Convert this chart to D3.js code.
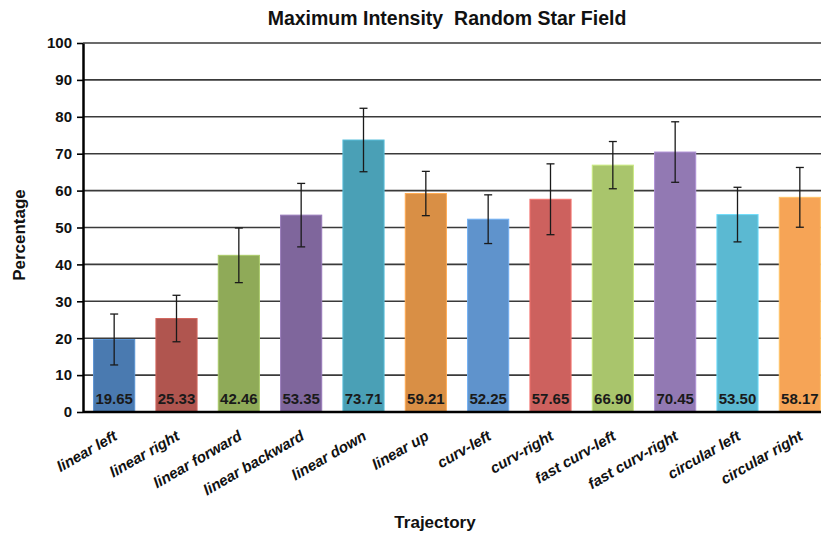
<!DOCTYPE html>
<html>
<head>
<meta charset="utf-8">
<script src="https://cdn.jsdelivr.net/npm/d3@7"></script>
<style>
  body { margin: 0; background: #fff; }
  text { font-family: "Liberation Sans", Arial, sans-serif; font-weight: bold; }
</style>
</head>
<body>
<div id="chart"></div>
<script>
// data
var trajectories = ["linear left", "linear right", "linear forward", "linear backward", "linear down", "linear up",
  "curv-left", "curv-right", "fast curv-left", "fast curv-right", "circular left", "circular right"];
var means = [19.65, 25.33, 42.46, 53.35, 73.71, 59.21, 52.25, 57.65, 66.90, 70.45, 53.50, 58.17];
var errors = [6.9, 6.3, 7.4, 8.6, 8.6, 6.0, 6.6, 9.6, 6.4, 8.2, 7.4, 8.1];
var barColors = ["#4a7ab0", "#b0554f", "#8faa58", "#7f669c", "#4aa0b6", "#d98f45",
  "#5f93cc", "#cd615e", "#a9c56c", "#9279b3", "#5bb9d2", "#f6a456"];
var yTicks = [0, 10, 20, 30, 40, 50, 60, 70, 80, 90, 100];

var width = 821, height = 536;

var svg = d3.select("#chart")
  .append("svg")
  .attr("width", width)
  .attr("height", height);

// scales
var x = d3.scaleBand()
  .domain(trajectories)
  .range([83, 831])
  .paddingInner(0.34)
  .paddingOuter(0.17);

var y = d3.scaleLinear()
  .domain([0, 100])
  .range([412, 43]);

// gridlines
svg.append("g")
  .selectAll("line")
  .data(yTicks.filter(function (d) { return d > 0; }))
  .enter()
  .append("line")
  .attr("x1", 83)
  .attr("x2", width)
  .attr("y1", function (d) { return y(d); })
  .attr("y2", function (d) { return y(d); })
  .attr("stroke", "#3a3a3a")
  .attr("stroke-width", 1.6);

// bars
svg.append("g")
  .selectAll("rect")
  .data(means)
  .enter()
  .append("rect")
  .attr("x", function (d, i) { return x(trajectories[i]); })
  .attr("y", function (d) { return y(d); })
  .attr("width", x.bandwidth())
  .attr("height", function (d) { return y(0) - y(d); })
  .attr("fill", function (d, i) { return barColors[i]; })
  .attr("stroke", function (d, i) { return d3.color(barColors[i]).brighter(0.5); })
  .attr("stroke-width", 1);

// error bars
var eb = svg.append("g")
  .selectAll("g")
  .data(means)
  .enter()
  .append("g")
  .attr("stroke", "#1a1a1a")
  .attr("stroke-width", 1.3);

function cx(i) { return x(trajectories[i]) + x.bandwidth() / 2; }

eb.append("line")
  .attr("x1", function (d, i) { return cx(i); })
  .attr("x2", function (d, i) { return cx(i); })
  .attr("y1", function (d, i) { return y(d + errors[i]); })
  .attr("y2", function (d, i) { return y(d - errors[i]); });
eb.append("line")
  .attr("x1", function (d, i) { return cx(i) - 4; })
  .attr("x2", function (d, i) { return cx(i) + 4; })
  .attr("y1", function (d, i) { return y(d + errors[i]); })
  .attr("y2", function (d, i) { return y(d + errors[i]); });
eb.append("line")
  .attr("x1", function (d, i) { return cx(i) - 4; })
  .attr("x2", function (d, i) { return cx(i) + 4; })
  .attr("y1", function (d, i) { return y(d - errors[i]); })
  .attr("y2", function (d, i) { return y(d - errors[i]); });

// value labels
svg.append("g")
  .selectAll("text")
  .data(means)
  .enter()
  .append("text")
  .attr("x", function (d, i) { return cx(i); })
  .attr("y", 404)
  .attr("text-anchor", "middle")
  .attr("font-size", 15)
  .attr("fill", "#1a1a1a")
  .text(function (d) { return d.toFixed(2); });

// Y axis
var yAxis = svg.append("g")
  .attr("transform", "translate(83,0)")
  .call(d3.axisLeft(y).tickValues(yTicks).tickSize(6).tickSizeOuter(0).tickPadding(5));
yAxis.select(".domain").attr("stroke", "#000").attr("stroke-width", 2.5);
yAxis.selectAll(".tick line").attr("stroke", "#000").attr("stroke-width", 1.6);
yAxis.selectAll(".tick text")
  .attr("font-size", 15)
  .attr("font-family", "Liberation Sans, Arial, sans-serif")
  .attr("font-weight", "bold")
  .attr("fill", "#111");

// X axis baseline
var xAxis = svg.append("g")
  .attr("transform", "translate(0," + y(0) + ")")
  .call(d3.axisBottom(x).tickSize(0).tickPadding(0));
xAxis.select(".domain").attr("stroke", "#000").attr("stroke-width", 2.5)
  .attr("d", "M83,0H" + width);
xAxis.selectAll(".tick text")
  .attr("font-size", 15)
  .attr("font-style", "italic")
  .attr("font-family", "Liberation Sans, Arial, sans-serif")
  .attr("font-weight", "bold")
  .attr("fill", "#111")
  .attr("text-anchor", "end")
  .attr("dy", 0)
  .attr("transform", "translate(4,27) rotate(-30)");

// title
svg.append("text")
  .attr("x", 447)
  .attr("y", 25)
  .attr("text-anchor", "middle")
  .attr("font-size", 19.5)
  .attr("fill", "#111")
  .text("Maximum Intensity  Random Star Field")
  .style("white-space", "pre");

// axis titles
svg.append("text")
  .attr("transform", "translate(25,235) rotate(-90)")
  .attr("text-anchor", "middle")
  .attr("font-size", 17)
  .attr("fill", "#111")
  .text("Percentage");

svg.append("text")
  .attr("x", 435)
  .attr("y", 528)
  .attr("text-anchor", "middle")
  .attr("font-size", 17)
  .attr("fill", "#111")
  .text("Trajectory");
</script>
</body>
</html>
